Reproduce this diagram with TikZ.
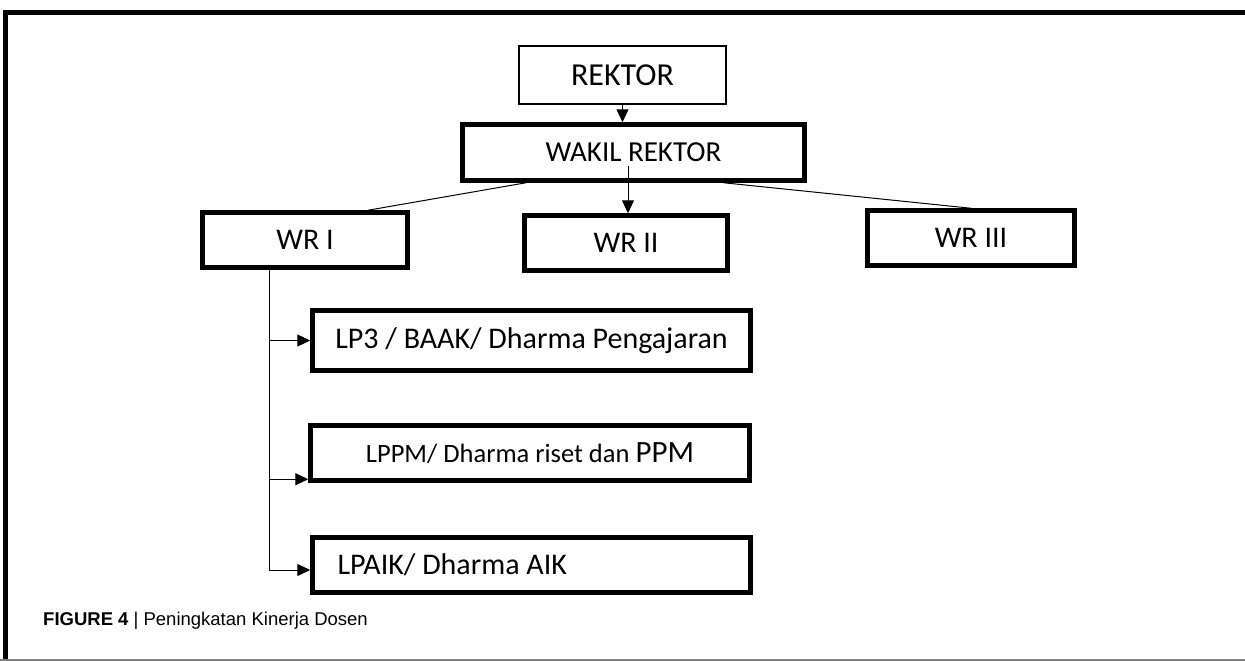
\documentclass[tikz,border=0pt]{standalone}
\usepackage{fontspec}
\setmainfont{Carlito}
\newfontfamily\capfont{Liberation Sans}
\usetikzlibrary{arrows.meta,calc}
\tikzset{
  thinbox/.style={draw=black,line width=1.8pt,fill=white,inner sep=0pt,font=\fontsize{32}{34}\selectfont},
  thickbox/.style={draw=black,line width=4.5pt,fill=white,inner sep=0pt},
  conn/.style={draw=black,line width=1pt},
  arr/.style={conn,-{Triangle[length=13pt,width=12pt]}},
}
\begin{document}
\begin{tikzpicture}[x=1pt,y=-1pt]
\useasboundingbox (0,0) rectangle (1245,661);
% frame
\draw[line width=5pt] (5,661) -- (5,13) -- (1245,13);
\draw[gray,line width=1.5pt] (0,660) -- (1245,660);
% nodes
\node[thinbox,minimum width=207pt,minimum height=58pt] (rek) at (622.5,75) {REKTOR};
\node[thickbox,minimum width=342pt,minimum height=56pt,font=\fontsize{29}{31}\selectfont] (wak) at (633.5,152.5) {WAKIL REKTOR};
\node[thickbox,minimum width=205pt,minimum height=55pt,font=\fontsize{30}{32}\selectfont] (wr1) at (305,240) {WR I};
\node[thickbox,minimum width=203pt,minimum height=55pt,font=\fontsize{30}{32}\selectfont] (wr2) at (626,243) {WR II};
\node[thickbox,minimum width=207pt,minimum height=55pt,font=\fontsize{30}{32}\selectfont] (wr3) at (971,238) {WR III};
\node[thickbox,minimum width=438pt,minimum height=60pt,font=\fontsize{30}{32}\selectfont] (lp3) at (531.5,340.5) {LP3 / BAAK/ Dharma Pengajaran};
\node[thickbox,minimum width=439pt,minimum height=55pt,font=\fontsize{26.5}{28}\selectfont] (lppm) at (530,453) {LPPM/ Dharma riset dan {\fontsize{31}{33}\selectfont PPM}};
\node[thickbox,minimum height=55pt,inner xsep=25pt,text width=388pt,align=flush left,font=\fontsize{30}{32}\selectfont] (lpaik) at (531.5,565) {LPAIK/ Dharma AIK};
\node[anchor=west,inner sep=0pt,font=\capfont\fontsize{18.5}{20}\selectfont] (cap) at (43,621) {\textbf{FIGURE 4} | Peningkatan Kinerja Dosen};
% connectors
\draw[arr] (rek.south) -- (rek.south |- wak.north);
\coordinate (w2s) at ($(wr2.north)+(2,-47)$);
\draw[arr] (w2s) -- (w2s |- wr2.north);
\draw[conn] ($(wak.south west)!0.19!(wak.south east)$) -- ($(wr1.north west)!0.8!(wr1.north east)$);
\draw[conn] ($(wak.south west)!0.76!(wak.south east)$) -- (wr3.north);
\coordinate (t0) at ($(wr1.south west)!0.33!(wr1.south east)$);
\coordinate (p3) at ($(lpaik.west)+(0,5)$);
\coordinate (p2) at ($(lppm.south west)+(0,-3.5)$);
\draw[arr] (t0) |- (p3);
\draw[arr] (t0 |- lp3.west) -- (lp3.west);
\draw[arr] (t0 |- p2) -- (p2);
\end{tikzpicture}
\end{document}
